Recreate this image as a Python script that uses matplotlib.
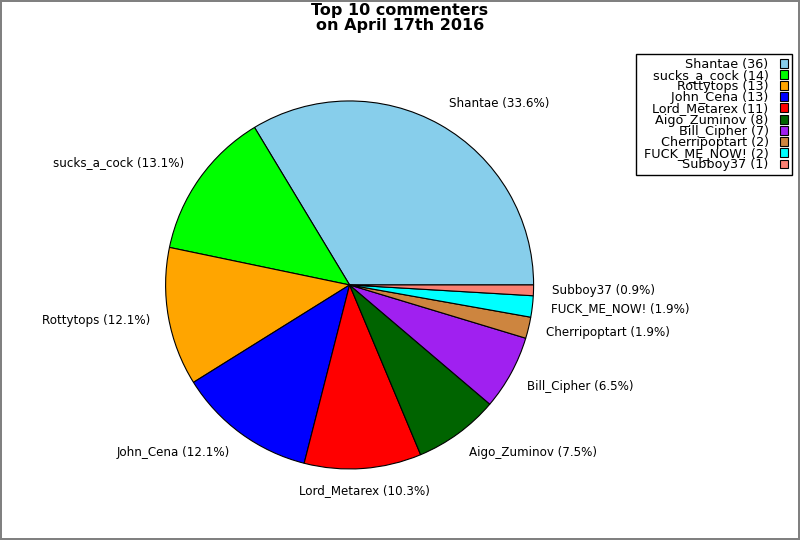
import matplotlib
matplotlib.use("Agg")
import matplotlib.pyplot as plt
import matplotlib.transforms as mtransforms

names = ["Shantae", "sucks_a_cock", "Rottytops", "John_Cena", "Lord_Metarex",
         "Aigo_Zuminov", "Bill_Cipher", "Cherripoptart", "FUCK_ME_NOW!", "Subboy37"]
counts = [36, 14, 13, 13, 11, 8, 7, 2, 2, 1]
colors = ["skyblue", "lime", "orange", "blue", "red",
          "darkgreen", "#a020f0", "peru", "cyan", "salmon"]

total = sum(counts)
pie_labels = ["%s (%.1f%%)" % (n, 100.0 * c / total) for n, c in zip(names, counts)]
# leading space gives the legend box some room on the left
legend_labels = [" %s (%d)" % (n, c) for n, c in zip(names, counts)]

fig = plt.figure(figsize=(8, 5.4), dpi=100)
fig.patch.set_edgecolor("gray")
fig.patch.set_linewidth(1.5)

ax = fig.add_axes([0.1495, 0.0463, 0.575, 0.852])
wedges, texts = ax.pie(counts, labels=pie_labels, colors=colors, startangle=0,
                       wedgeprops={"edgecolor": "black", "linewidth": 0.8},
                       textprops={"fontsize": 8.6})
ax.set_aspect("equal")

# nudge labels a little outward vertically, like the original
for t in texts:
    x, y = t.get_position()
    dy = 0
    if y > 0.3:
        dy = 4
    elif y < -0.4:
        dy = -3
    t.set_transform(t.get_transform() +
                    mtransforms.ScaledTranslation(0, dy / 72.0, fig.dpi_scale_trans))
    if abs(x) < 0.15:
        t.set_ha("center")

fig.suptitle("Top 10 commenters\non April 17th 2016", fontsize=11.5,
             fontweight="bold", y=0.994, linespacing=1.0)

leg = fig.legend(wedges, legend_labels, loc="upper right",
                 bbox_to_anchor=(0.99, 0.9), borderaxespad=0, markerfirst=False,
                 fontsize=9.2, labelspacing=-0.14, handlelength=0.65,
                 handleheight=0.7, handletextpad=0.9, borderpad=0.28,
                 fancybox=False, framealpha=1, edgecolor="black")
leg.get_frame().set_linewidth(1)

fig.savefig("out.png", dpi=100, edgecolor=fig.get_edgecolor())
